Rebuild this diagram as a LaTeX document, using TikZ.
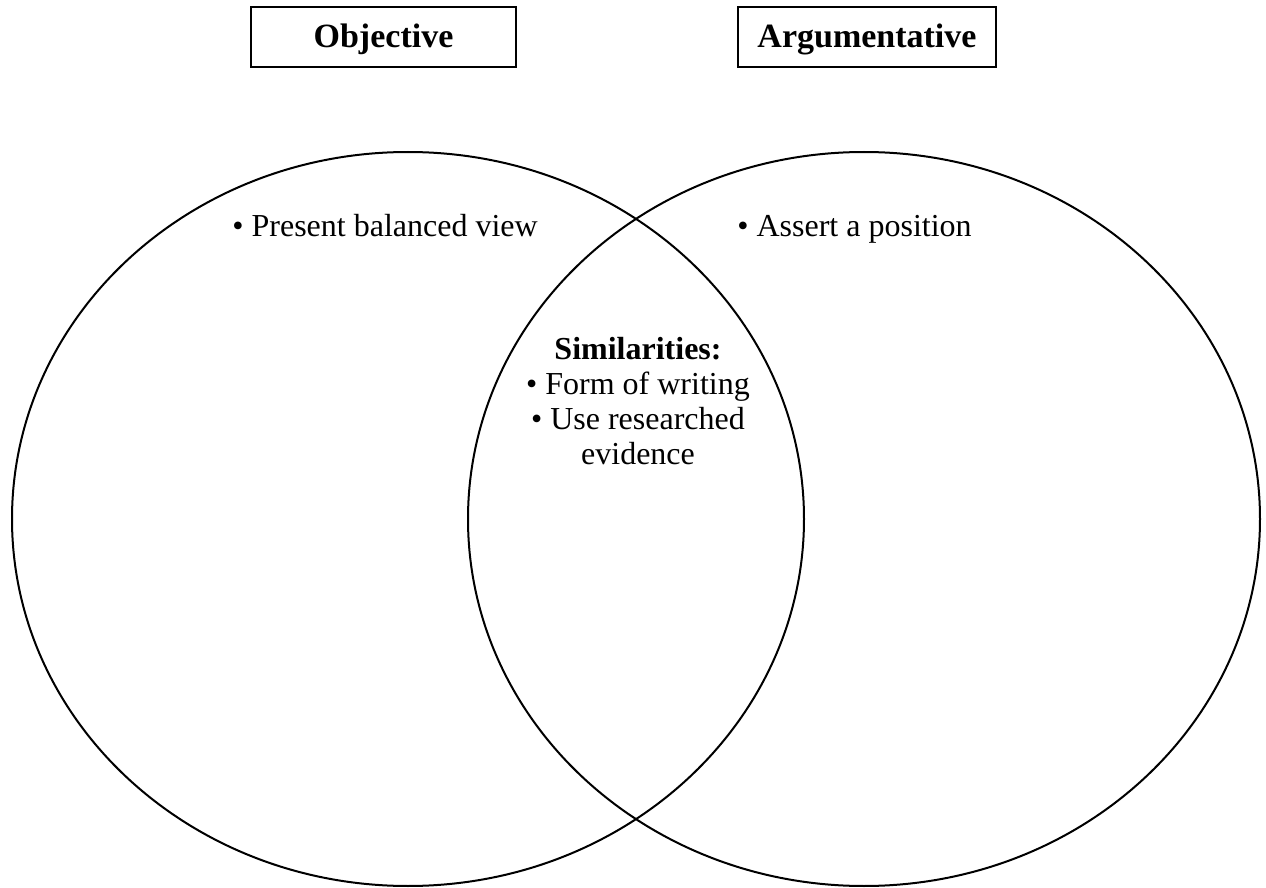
\documentclass[tikz,border=0pt]{standalone}
\usepackage{fontspec}
\setmainfont{Liberation Serif}
\usetikzlibrary{shapes.geometric}
\tikzset{
  vnset/.style={ellipse, draw, line width=1pt, minimum width=396pt,
    minimum height=367pt, inner sep=0pt},
  vnhead/.style={rectangle, draw, line width=1pt, minimum height=30pt,
    text depth=1pt, font=\fontsize{17}{20}\selectfont\bfseries},
  vnitem/.style={font=\fontsize{16}{17.5}\selectfont, inner sep=0pt},
}
\begin{document}
\begin{tikzpicture}[x=0.5pt, y=-0.5pt]
  \useasboundingbox (0,0) rectangle (1266,888);
  % the two sets
  \node[vnset] (objset) at (408,519) {};
  \node[vnset] (argset) at (864,519) {};
  % headings
  \node[vnhead, minimum width=132.5pt] (objhead) at (383.5,37) {Objective};
  \node[vnhead, minimum width=129pt] (arghead) at (867,37) {Argumentative};
  % contents
  \node[vnitem, anchor=base west] (objitem) at (232,237) {\textbullet{} Present balanced view};
  \node[vnitem, anchor=base west] (argitem) at (737,237) {\textbullet{} Assert a position};
  \node[vnitem, align=center, anchor=north] (simitem) at (638,337)
    {\textbf{Similarities:}\\ \textbullet{} Form of writing\\ \textbullet{} Use researched\\ evidence};
\end{tikzpicture}
\end{document}
